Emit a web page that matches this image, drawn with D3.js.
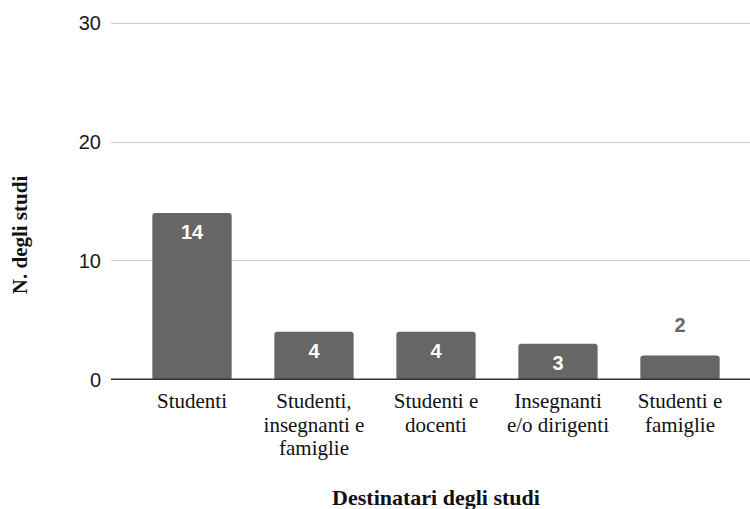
<!DOCTYPE html>
<html>
<head>
<meta charset="utf-8">
<script src="https://cdn.jsdelivr.net/npm/d3@7/dist/d3.min.js"></script>
<style>
  html, body { margin: 0; padding: 0; background: #ffffff; }
  svg { display: block; }
</style>
</head>
<body>
<svg id="chart" width="750" height="509"></svg>
<script>
// Study targets and number of studies per target
const categories = [
  ["Studenti"],
  ["Studenti,", "insegnanti e", "famiglie"],
  ["Studenti e", "docenti"],
  ["Insegnanti", "e/o dirigenti"],
  ["Studenti e", "famiglie"]
];
const values = [14, 4, 4, 3, 2];
const yTicks = [0, 10, 20, 30];
const xTitle = "Destinatari degli studi";
const yTitle = "N. degli studi";

const svg = d3.select("#chart");
const barColor = "#666666";
const sans = "'Liberation Sans', Arial, sans-serif";
const serif = "'Liberation Serif', 'Times New Roman', serif";

const x = d3.scaleBand()
  .domain(d3.range(values.length))
  .range([131, 741])
  .paddingInner(0.35)
  .paddingOuter(0.175);

const y = d3.scaleLinear()
  .domain([0, 30])
  .range([379.3, 22.7]);

// Horizontal gridlines
svg.append("g")
  .selectAll("line")
  .data(yTicks.filter(t => t !== 0))
  .join("line")
  .attr("x1", 111).attr("x2", 750)
  .attr("y1", d => Math.round(y(d)) + 0.5)
  .attr("y2", d => Math.round(y(d)) + 0.5)
  .attr("stroke", "#cccccc")
  .attr("stroke-width", 1);

// Y tick labels
svg.append("g")
  .selectAll("text")
  .data(yTicks)
  .join("text")
  .attr("x", 101)
  .attr("y", d => y(d))
  .attr("dy", "0.36em")
  .attr("text-anchor", "end")
  .attr("font-family", sans)
  .attr("font-size", 20)
  .attr("fill", "#1a1a1a")
  .text(d => d);

// Bars with slightly rounded top corners
const r = 3;
function barPath(i, v) {
  const x0 = x(i), x1 = x(i) + x.bandwidth();
  const yt = y(v), yb = y(0);
  return `M${x0},${yb} L${x0},${yt + r} Q${x0},${yt} ${x0 + r},${yt} ` +
         `L${x1 - r},${yt} Q${x1},${yt} ${x1},${yt + r} L${x1},${yb} Z`;
}
svg.append("g")
  .selectAll("path")
  .data(values)
  .join("path")
  .attr("d", (d, i) => barPath(i, d))
  .attr("fill", barColor);

// Value labels: inside the bar when it is tall enough, above it otherwise
svg.append("g")
  .selectAll("text")
  .data(values)
  .join("text")
  .attr("x", (d, i) => x(i) + x.bandwidth() / 2)
  .attr("y", d => d >= 3 ? y(d) + 26 : y(d) - 24)
  .attr("text-anchor", "middle")
  .attr("font-family", sans)
  .attr("font-weight", "bold")
  .attr("font-size", 20)
  .attr("fill", d => d >= 3 ? "#ffffff" : barColor)
  .text(d => d);

// Baseline
svg.append("line")
  .attr("x1", 111).attr("x2", 750)
  .attr("y1", y(0)).attr("y2", y(0))
  .attr("stroke", "#333333")
  .attr("stroke-width", 1.5);

// Category labels (multi-line)
const catG = svg.append("g");
categories.forEach((lines, i) => {
  const t = catG.append("text")
    .attr("x", x(i) + x.bandwidth() / 2)
    .attr("y", 408)
    .attr("text-anchor", "middle")
    .attr("font-family", serif)
    .attr("font-size", 21)
    .attr("fill", "#111111");
  lines.forEach((ln, k) => {
    t.append("tspan")
      .attr("x", x(i) + x.bandwidth() / 2)
      .attr("y", 408 + k * 23.5)
      .text(ln);
  });
});

// Axis titles
svg.append("text")
  .attr("x", 436)
  .attr("y", 505)
  .attr("text-anchor", "middle")
  .attr("font-family", serif)
  .attr("font-weight", "bold")
  .attr("font-size", 22)
  .attr("fill", "#111111")
  .text(xTitle);

svg.append("text")
  .attr("transform", "translate(27,235) rotate(-90)")
  .attr("text-anchor", "middle")
  .attr("font-family", serif)
  .attr("font-weight", "bold")
  .attr("font-size", 21)
  .attr("fill", "#111111")
  .text(yTitle);
</script>
</body>
</html>
